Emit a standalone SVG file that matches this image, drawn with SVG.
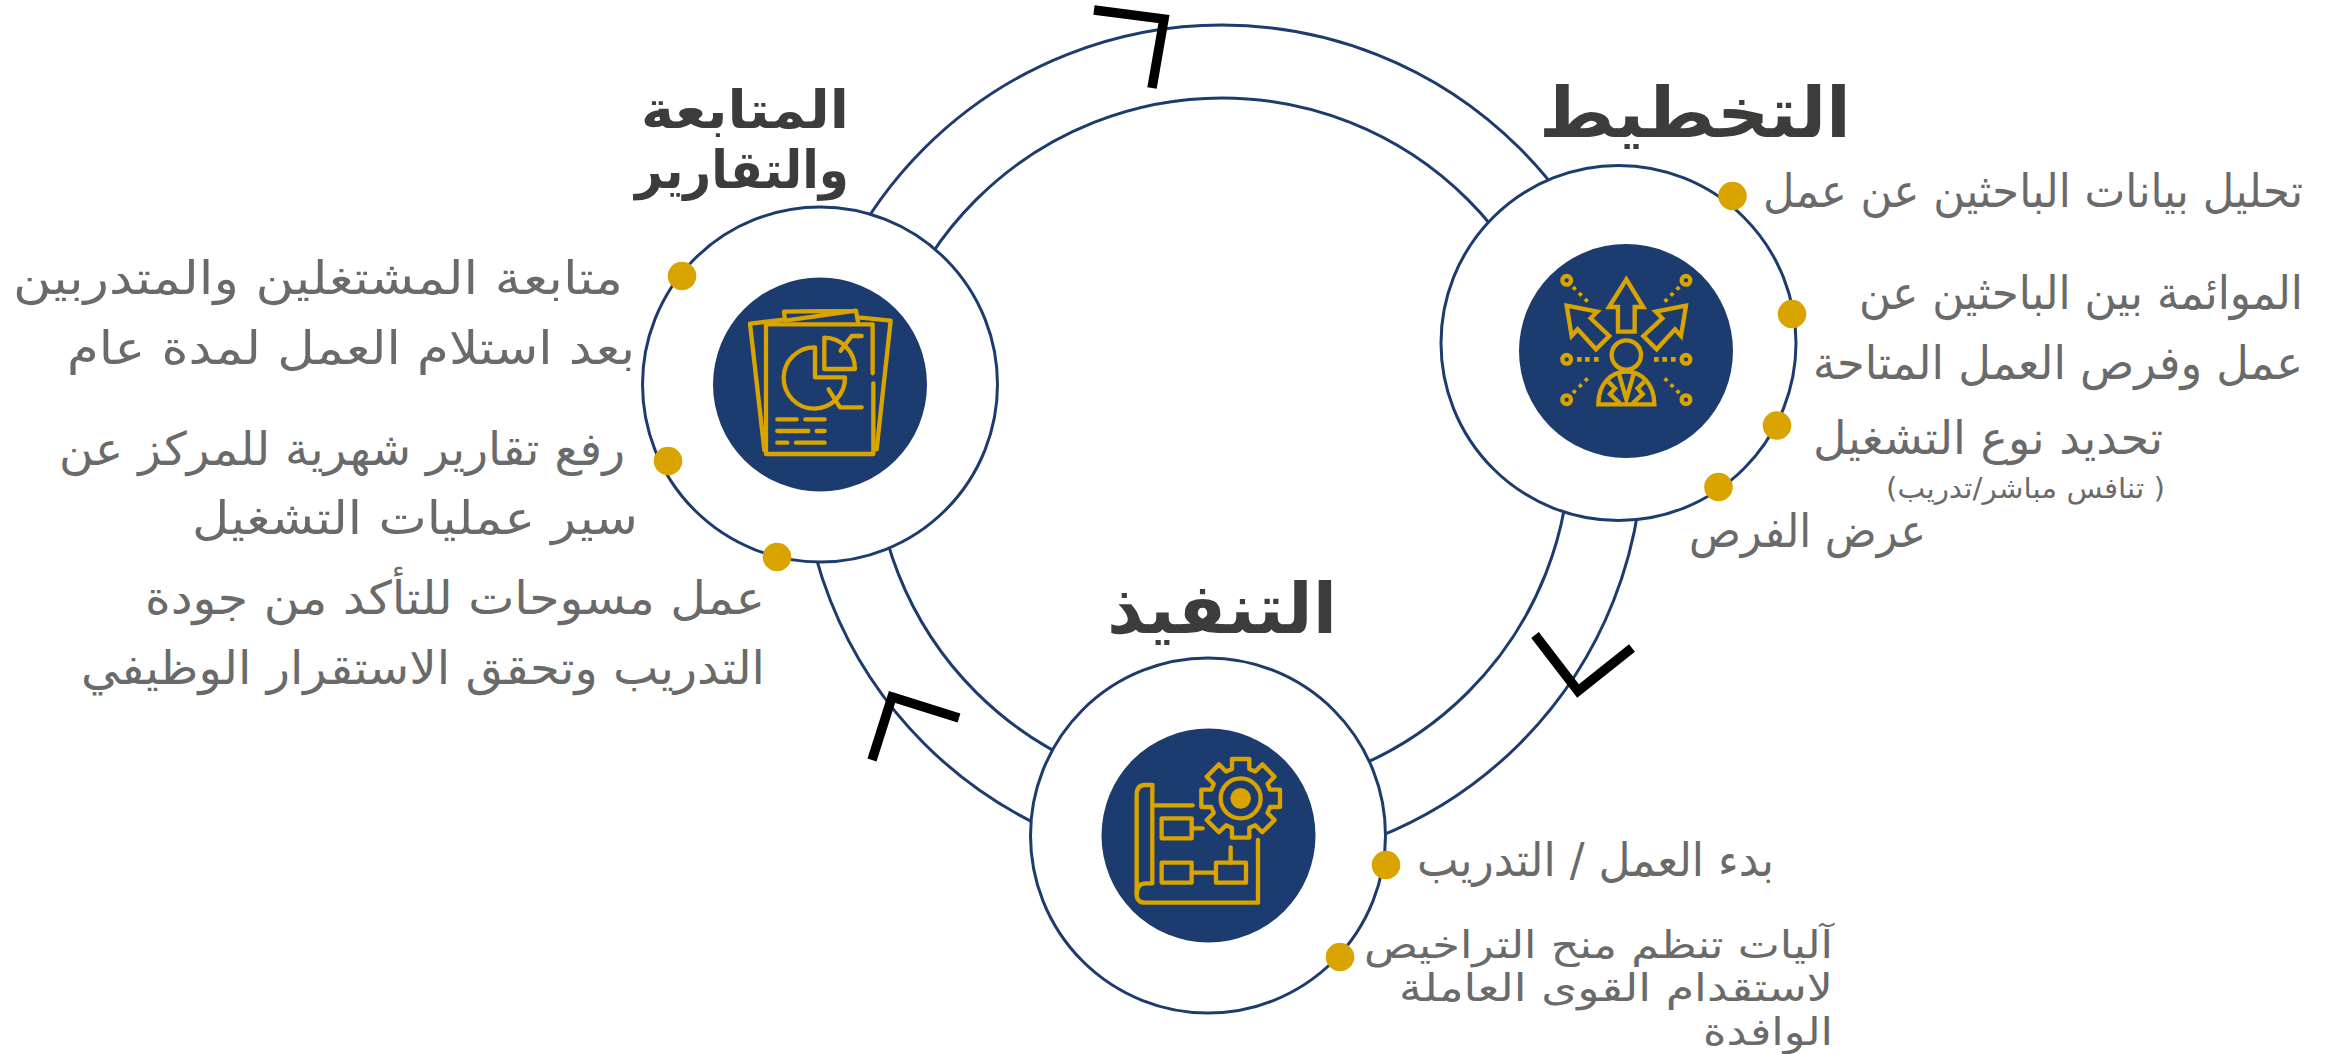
<svg xmlns="http://www.w3.org/2000/svg" width="2336" height="1054" viewBox="0 0 2336 1054">
<style>
.ring{fill:none;stroke:#1c3b6e;stroke-width:3}
.chev{fill:none;stroke:#000;stroke-width:9.5;stroke-miterlimit:10}
.node{fill:#fff;stroke:#1c3b6e;stroke-width:3}
.core{fill:#1c3b6e}
.dot{fill:#d9a400}
.ic{fill:none;stroke:#d9a400;stroke-width:13;stroke-linejoin:miter}
.icr{fill:none;stroke:#d9a400;stroke-width:13;stroke-linecap:round;stroke-linejoin:round}
.f{fill:#d9a400}
text{font-family:"DejaVu Sans","Noto Sans",sans-serif;direction:rtl}
.t{font-size:70px;font-weight:700;fill:#3c3c3b}
.t2{font-size:52px;font-weight:700;fill:#3c3c3b}
.b{font-size:46px;fill:#6a6a6a}
.c{font-size:38px;fill:#6a6a6a}
.s{font-size:28px;fill:#6a6a6a}
</style>
<rect width="2336" height="1054" fill="#fff"/>
<g id="connectors">
<circle class="ring" cx="1222" cy="446" r="421"/>
<circle class="ring" cx="1222" cy="446" r="348"/>
<polyline class="chev" points="1094,10 1164,19 1152,88"/>
<polyline class="chev" points="1535,635 1578,691 1632,648"/>
<polyline class="chev" points="872,760 892,697 959,718"/>
</g>
<g id="node-planning">
<circle class="node" cx="1618.5" cy="343" r="177.5"/>
<circle class="core" cx="1626" cy="351" r="107"/>
<g transform="translate(1540 250) scale(.3333)">
<path class="ic" d="M259 88L310 171H284V245H234V171H207Z"/>
<path class="ic" d="M80 167L172 185L152 205L208 258L168 298L113 238L95 258Z"/>
<path class="ic" d="M438 167L347 185L367 205L310 258L350 298L405 238L423 258Z"/>
<circle class="ic" cx="259" cy="315" r="44"/>
<path class="ic" d="M175 463C175 400 215 365 259 365C303 365 343 400 343 463Z"/>
<path class="ic" d="M235 365L259 448L283 365M205 395L225 415L210 432L240 460M313 395L293 415L308 432L278 460"/>
<circle class="ic" cx="80" cy="91" r="13"/><circle class="ic" cx="438" cy="91" r="13"/>
<circle class="ic" cx="80" cy="328" r="13"/><circle class="ic" cx="438" cy="328" r="13"/>
<circle class="ic" cx="80" cy="449" r="13"/><circle class="ic" cx="438" cy="449" r="13"/>
<path class="f" d="M111 321h14v14h-14zM135 321h14v14h-14zM162 321h14v14h-14zM342 321h14v14h-14zM367 321h14v14h-14zM393 321h14v14h-14z"/>
<path class="f" d="M103 107l8 8l-8 8l-8-8zM121 125l8 8l-8 8l-8-8zM139 143l8 8l-8 8l-8-8zM414 107l8 8l-8 8l-8-8zM396 125l8 8l-8 8l-8-8zM378 143l8 8l-8 8l-8-8zM139 381l8 8l-8 8l-8-8zM121 399l8 8l-8 8l-8-8zM103 417l8 8l-8 8l-8-8zM378 381l8 8l-8 8l-8-8zM396 399l8 8l-8 8l-8-8zM414 417l8 8l-8 8l-8-8z"/>
</g>
<circle class="dot" cx="1732.5" cy="196" r="14.3"/>
<circle class="dot" cx="1792" cy="314" r="14.3"/>
<circle class="dot" cx="1777" cy="425.5" r="14.3"/>
<circle class="dot" cx="1718.5" cy="487" r="14.3"/>
<text class="t" x="1851" y="137" textLength="312" lengthAdjust="spacingAndGlyphs">التخطيط</text>
<text class="b" x="2303" y="207" textLength="540" lengthAdjust="spacingAndGlyphs">تحليل بيانات الباحثين عن عمل</text>
<text class="b" x="2303" y="309" textLength="444" lengthAdjust="spacingAndGlyphs">الموائمة بين الباحثين عن</text>
<text class="b" x="2303" y="379" textLength="490" lengthAdjust="spacingAndGlyphs">عمل وفرص العمل المتاحة</text>
<text class="b" x="2163" y="454" textLength="350" lengthAdjust="spacingAndGlyphs">تحديد نوع التشغيل</text>
<text class="s" x="2165" y="498" textLength="279" lengthAdjust="spacingAndGlyphs">( تنافس مباشر/تدريب)</text>
<text class="b" x="1926" y="547" textLength="237" lengthAdjust="spacingAndGlyphs">عرض الفرص</text>
</g>
<g id="node-followup">
<circle class="node" cx="820" cy="384.5" r="177.5"/>
<circle class="core" cx="820" cy="384.5" r="107"/>
<g transform="translate(730 290) scale(.3333)">
<path class="icr" d="M428 250V103H108V492H430V280"/>
<path class="icr" d="M155 90L60 101L103 480M165 92L162 65L378 62L384 96M165 92L378 62M385 82L482 92L440 478"/>
<path class="icr" d="M255 172A92 92 0 1 0 345 262H255Z"/>
<path class="icr" d="M283 143V237H375A93 93 0 0 0 283 143Z"/>
<path class="icr" d="M332 182L365 138H395M296 298L330 352H395"/>
<path class="icr" d="M142 388H200M226 388H284M142 423H235M260 423H284M142 458H172M198 458H284"/>
</g>
<circle class="dot" cx="682" cy="276" r="14.3"/>
<circle class="dot" cx="668" cy="461" r="14.3"/>
<circle class="dot" cx="777" cy="557" r="14.3"/>
<text class="t2" x="849" y="128" textLength="208" lengthAdjust="spacingAndGlyphs">المتابعة</text>
<text class="t2" x="849" y="188" textLength="214" lengthAdjust="spacingAndGlyphs">والتقارير</text>
<text class="b" x="623" y="294" textLength="610" lengthAdjust="spacingAndGlyphs">متابعة المشتغلين والمتدربين</text>
<text class="b" x="635" y="364" textLength="568" lengthAdjust="spacingAndGlyphs">بعد استلام العمل لمدة عام</text>
<text class="b" x="625" y="465" textLength="566" lengthAdjust="spacingAndGlyphs">رفع تقارير شهرية للمركز عن</text>
<text class="b" x="638" y="534" textLength="446" lengthAdjust="spacingAndGlyphs">سير عمليات التشغيل</text>
<text class="b" x="765" y="614" textLength="620" lengthAdjust="spacingAndGlyphs">عمل مسوحات للتأكد من جودة</text>
<text class="b" x="765" y="684" textLength="684" lengthAdjust="spacingAndGlyphs">التدريب وتحقق الاستقرار الوظيفي</text>
</g>
<g id="node-execution">
<circle class="node" cx="1208" cy="835.5" r="177.5"/>
<circle class="core" cx="1208.5" cy="835.5" r="107"/>
<g transform="translate(1110 740) scale(.3333)">
<path class="icr" d="M127 135H105Q80 135 80 165V462Q80 488 105 488H444V300"/>
<path class="icr" d="M127 135V430H105Q80 432 80 462"/>
<path class="icr" d="M127 196H248M245 265H278M245 398H318M362 368V322"/>
<rect class="icr" x="155" y="235" width="90" height="60"/>
<rect class="icr" x="155" y="368" width="90" height="60"/>
<rect class="icr" x="318" y="368" width="90" height="60"/>
<polygon class="icr" transform="translate(392 175)" points="-26,-88 -26,-118 26,-118 26,-88 43.8,-80.6 65,-101.8 101.8,-65 80.6,-43.8 88,-26 118,-26 118,26 88,26 80.6,43.8 101.8,65 65,101.8 43.8,80.6 26,88 26,118 -26,118 -26,88 -43.8,80.6 -65,101.8 -101.8,65 -80.6,43.8 -88,26 -118,26 -118,-26 -88,-26 -80.6,-43.8 -101.8,-65 -65,-101.8 -43.8,-80.6"/>
<circle class="ic" cx="392" cy="175" r="60"/>
<circle class="f" cx="392" cy="175" r="31"/>
</g>
<circle class="dot" cx="1386" cy="865" r="14.3"/>
<circle class="dot" cx="1340" cy="957" r="14.3"/>
<text class="t" x="1337" y="633" textLength="230" lengthAdjust="spacingAndGlyphs">التنفيذ</text>
<text class="b" x="1774" y="876" textLength="357" lengthAdjust="spacingAndGlyphs">بدء العمل / التدريب</text>
<text class="c" x="1833" y="958" textLength="469" lengthAdjust="spacingAndGlyphs">آليات تنظم منح التراخيص</text>
<text class="c" x="1833" y="1001" textLength="434" lengthAdjust="spacingAndGlyphs">لاستقدام القوى العاملة</text>
<text class="c" x="1833" y="1045" textLength="130" lengthAdjust="spacingAndGlyphs">الوافدة</text>
</g>
</svg>
